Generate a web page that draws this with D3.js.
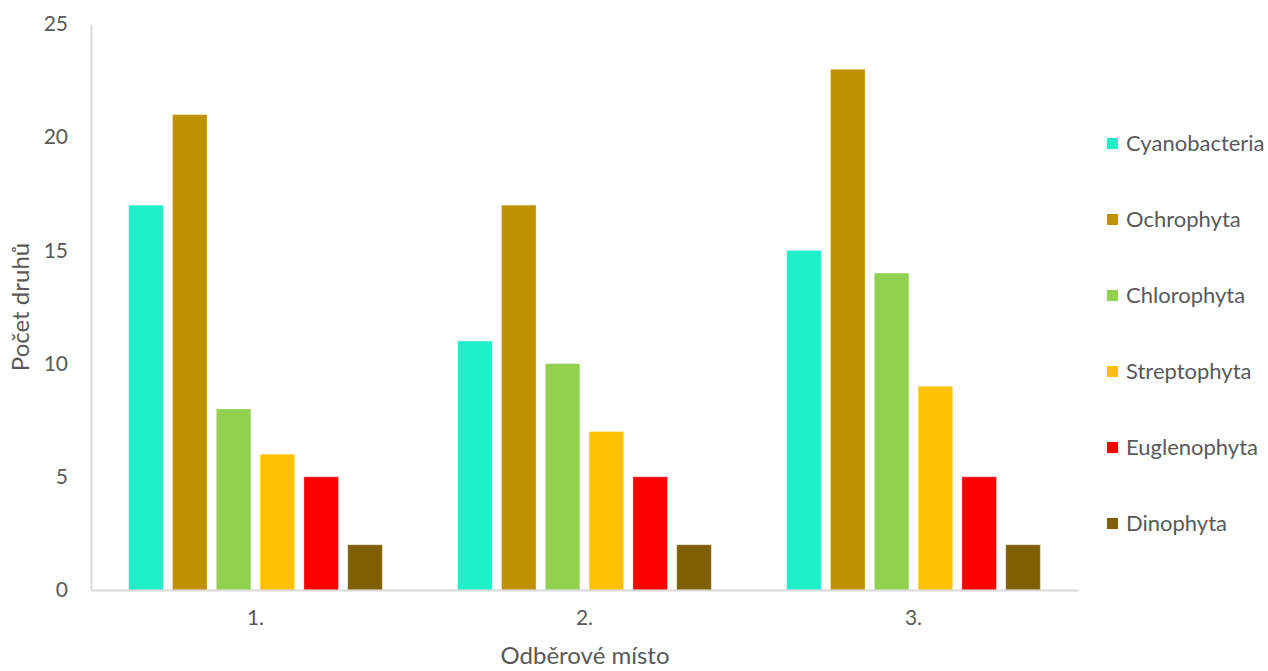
<!DOCTYPE html>
<html><head><meta charset="utf-8">
<script src="https://cdn.jsdelivr.net/npm/d3@7"></script>
<style>body{margin:0;background:#fff}svg{display:block}text{font-family:Lato,"Open Sans",sans-serif;fill:#595959}</style>
</head><body><svg id="c" width="1268" height="671"></svg>
<script>
const categories = ["1.", "2.", "3."];
const seriesNames = ["Cyanobacteria","Ochrophyta","Chlorophyta","Streptophyta","Euglenophyta","Dinophyta"];
const seriesColors = ["#1DF0C8","#BF9000","#92D050","#FFC000","#FF0000","#7F6000"];
const cyanobacteria = [17, 11, 15];
const ochrophyta = [21, 17, 23];
const chlorophyta = [8, 10, 14];
const streptophyta = [6, 7, 9];
const euglenophyta = [5, 5, 5];
const dinophyta = [2, 2, 2];
const yTicks = [0, 5, 10, 15, 20, 25];
const seriesValues = [cyanobacteria, ochrophyta, chlorophyta, streptophyta, euglenophyta, dinophyta];

const svg = d3.select("#c");
const m = {left: 91, right: 1078, top: 24, bottom: 590};
const x0 = d3.scaleBand().domain(categories).range([m.left, m.right]).paddingInner(0).paddingOuter(0);
const x1 = d3.scaleBand().domain(seriesNames).range([0, x0.bandwidth()]).paddingInner(0.21).paddingOuter(0.86);
const y = d3.scaleLinear().domain([0, 25]).range([m.bottom, m.top]);

// bars
seriesNames.forEach((s, si) => {
  svg.append("g").selectAll("rect").data(categories).join("rect")
    .attr("x", c => x0(c) + x1(s))
    .attr("y", (c, i) => y(seriesValues[si][i]))
    .attr("width", x1.bandwidth())
    .attr("height", (c, i) => y(0) - y(seriesValues[si][i]))
    .attr("fill", seriesColors[si])
    .attr("stroke", "rgba(255,255,255,0.35)").attr("stroke-width", 1);
});

// y axis
const ya = svg.append("g").attr("transform", `translate(${m.left},0)`)
  .call(d3.axisLeft(y).tickValues(yTicks).tickSize(0).tickPadding(23));
ya.select(".domain").attr("stroke", "#D9D9D9").attr("stroke-width", 2);
ya.selectAll("text").style("font-size", "21px").attr("fill", "#595959").style("font-family", 'Lato,sans-serif');

// x axis
const xa = svg.append("g").attr("transform", `translate(0,${m.bottom})`)
  .call(d3.axisBottom(x0).tickSize(0).tickPadding(20));
xa.select(".domain").attr("stroke", "#D9D9D9").attr("stroke-width", 2);
xa.selectAll("text").style("font-size", "21px").attr("fill", "#595959").style("font-family", 'Lato,sans-serif');

// titles
svg.append("text").attr("transform", "translate(29,307) rotate(-90)").attr("text-anchor", "middle")
  .style("font-size", "24px").text("Počet druhů");
svg.append("text").attr("x", 585).attr("y", 664).attr("text-anchor", "middle")
  .style("font-size", "24px").text("Odběrové místo");

// legend
const lg = svg.append("g");
const ly = d3.scalePoint().domain(seriesNames).range([143, 523]);
seriesNames.forEach((s, i) => {
  lg.append("rect").attr("x", 1107).attr("y", ly(s) - 5).attr("width", 11).attr("height", 11).attr("fill", seriesColors[i]);
  lg.append("text").attr("x", 1126).attr("y", ly(s)).attr("dy", "0.35em").style("font-size", "22px").text(s);
});
</script></body></html>
